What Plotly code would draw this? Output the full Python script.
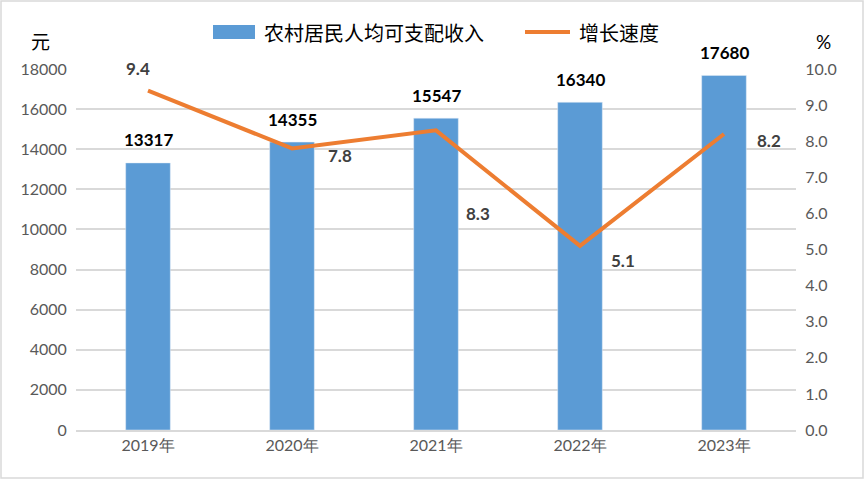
import plotly.graph_objects as go

years = ['2019年', '2020年', '2021年', '2022年', '2023年']
income = [13317, 14355, 15547, 16340, 17680]
growth = [9.4, 7.8, 8.3, 5.1, 8.2]

# label offsets for the growth labels (px), follows the original layout
growth_shift = [(-10, 22), (48, -7), (42, -83), (43, -15), (45, -7)]

num_font = 'Lato'
cjk_font = 'Noto Sans CJK SC'
grid = '#D9D9D9'
blue = '#5B9BD5'
orange = '#ED7D31'

W, H = 720, 361  # plot area size in px


def px(x, y):
    # pixel position on the page -> paper coordinates
    return (x - 76) / W, (479 - 49 - y) / H


fig = go.Figure()
fig.add_trace(go.Bar(
    x=years, y=income, name='农村居民人均可支配收入',
    marker_color=blue, width=0.31
))
fig.add_trace(go.Scatter(
    x=years, y=growth, name='增长速度', yaxis='y2', mode='lines',
    line=dict(color=orange, width=4)
))

annotations = []
for yr, v in zip(years, income):
    annotations.append(dict(
        x=yr, y=v, text=f'<b>{v}</b>', showarrow=False, yshift=23,
        font=dict(family=num_font, size=17, color='#000000')
    ))
for (yr, g), (dx, dy) in zip(zip(years, growth), growth_shift):
    annotations.append(dict(
        x=yr, y=g, yref='y2', text=f'<b>{g:.1f}</b>', showarrow=False,
        xshift=dx, yshift=dy,
        font=dict(family=num_font, size=17, color='#404040')
    ))

# axis unit labels
ax, ay = px(40, 40)
annotations.append(dict(x=ax, y=ay, xref='paper', yref='paper', text='元',
                        showarrow=False, xanchor='center', yanchor='middle',
                        font=dict(family=cjk_font, size=19, color='#000000')))
ax, ay = px(823, 41)
annotations.append(dict(x=ax, y=ay, xref='paper', yref='paper', text='%',
                        showarrow=False, xanchor='center', yanchor='middle',
                        font=dict(family=num_font, size=19, color='#000000')))

# hand-drawn legend
shapes = []
x0, y0 = px(213, 25)
x1, y1 = px(255, 39)
shapes.append(dict(type='rect', xref='paper', yref='paper', x0=x0, x1=x1,
                   y0=y0, y1=y1, fillcolor=blue, line=dict(width=0)))
x0, y0 = px(525, 32)
x1, _ = px(570, 32)
shapes.append(dict(type='line', xref='paper', yref='paper', x0=x0, x1=x1,
                   y0=y0, y1=y0, line=dict(color=orange, width=4)))
lx, ly = px(262, 32)
annotations.append(dict(x=lx, y=ly, xref='paper', yref='paper',
                        text='农村居民人均可支配收入', showarrow=False,
                        xanchor='left', yanchor='middle',
                        font=dict(family=cjk_font, size=20, color='#000000')))
lx, ly = px(577, 32)
annotations.append(dict(x=lx, y=ly, xref='paper', yref='paper',
                        text='增长速度', showarrow=False,
                        xanchor='left', yanchor='middle',
                        font=dict(family=cjk_font, size=20, color='#000000')))

# outer border
bx0, by0 = px(1, 478)
bx1, by1 = px(863, 1)
shapes.append(dict(type='rect', xref='paper', yref='paper',
                   x0=bx0, x1=bx1, y0=by0, y1=by1,
                   line=dict(color=grid, width=1.5)))

fig.update_layout(
    width=864, height=479,
    margin=dict(l=76, r=68, t=69, b=49, autoexpand=False),
    paper_bgcolor='white', plot_bgcolor='white',
    showlegend=False,
    xaxis=dict(
        automargin=False,
        tickfont=dict(family=num_font, size=16, color='#595959'),
        showline=True, linecolor=grid, linewidth=1.5, ticks=''
    ),
    yaxis=dict(
        automargin=False,
        range=[0, 18000], dtick=2000, tickformat='d',
        showgrid=True, gridcolor=grid, gridwidth=1.5,
        zeroline=False, tickfont=dict(family=num_font, size=16, color='#595959'),
        ticksuffix='  '
    ),
    yaxis2=dict(
        automargin=False,
        overlaying='y', side='right', range=[0, 10], dtick=1, tickformat='.1f',
        showgrid=False, zeroline=False,
        tickfont=dict(family=num_font, size=16, color='#595959'),
        tickprefix='  '
    ),
    annotations=annotations,
    shapes=shapes
)

fig.write_html('out.html', config={'displayModeBar': False},
               post_script="document.body.style.margin='0px';")
